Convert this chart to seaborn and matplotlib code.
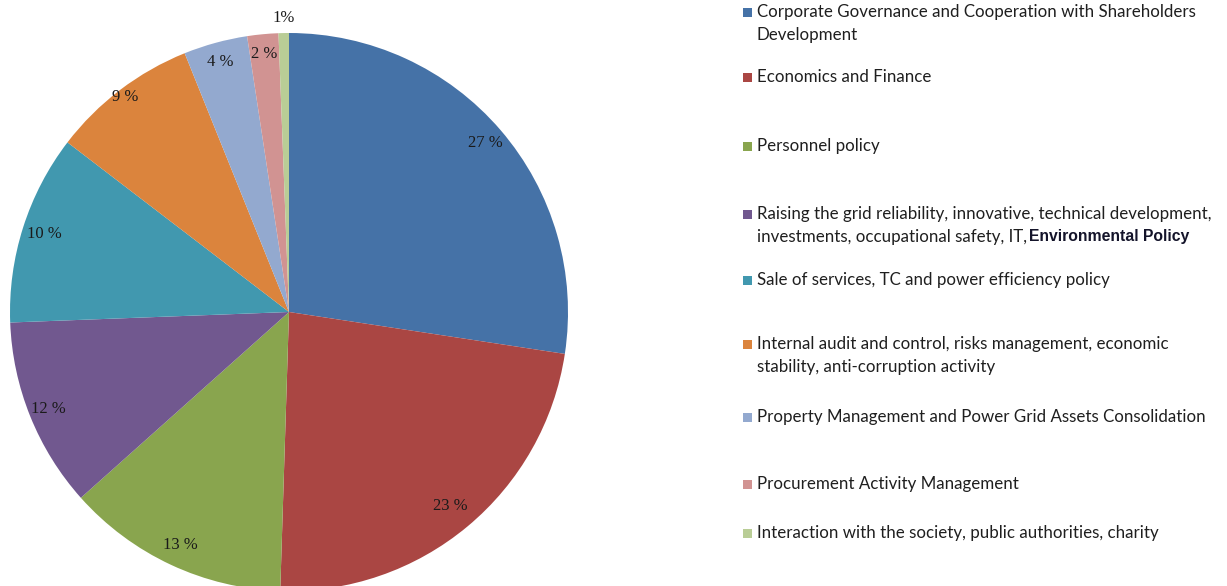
import numpy as np
import matplotlib.pyplot as plt
import seaborn as sns
from matplotlib.patches import Rectangle

# data
categories = [
    "Corporate Governance and Cooperation with Shareholders\nDevelopment",
    "Economics and Finance",
    "Personnel policy",
    "Raising the grid reliability, innovative, technical development,\ninvestments, occupational safety, IT,",
    "Sale of services, TC and power efficiency policy",
    "Internal audit and control, risks management, economic\nstability, anti-corruption activity",
    "Property Management and Power Grid Assets Consolidation",
    "Procurement Activity Management",
    "Interaction with the society, public authorities, charity",
]
# slice sizes (printed labels are rounded)
shares = [27.4, 23.1, 12.9, 11.0, 11.0, 8.5, 3.7, 1.8, 0.6]
pct_labels = ["27 %", "23 %", "13 %", "12 %", "10 %", "9 %", "4 %", "2 %", "1%"]
colors = ["#4572A7", "#AA4643", "#89A54E", "#71588F", "#4198AF",
          "#DB843D", "#93A9CF", "#D19392", "#B9CD96"]

# layout (pixels)
label_r = [0.93, 0.905, 0.92, 0.93, 0.92, 0.97, 0.93, 0.93, 1.055]
legend_y = [12, 77, 146, 214, 280, 344, 417, 484, 533]
line_gap = 23

sns.set_theme(style="white")
W, H = 1227, 586
fig = plt.figure(figsize=(W / 100, H / 100), dpi=100)

cx, cy, R = 289, 312, 279
pad = 1.02
ax = fig.add_axes([(cx - R * pad) / W, (H - cy - R * pad) / H, 2 * R * pad / W, 2 * R * pad / H])
wedges, _ = ax.pie(shares, colors=colors, startangle=90, counterclock=False,
                   wedgeprops=dict(linewidth=0))
ax.set_xlim(-pad, pad)
ax.set_ylim(-pad, pad)
ax.set_aspect("equal")

for w, lab, d in zip(wedges, pct_labels, label_r):
    ang = np.deg2rad((w.theta1 + w.theta2) / 2)
    ax.text(d * np.cos(ang), d * np.sin(ang), lab, ha="center", va="center",
            fontfamily="Liberation Serif", fontsize=12, color="#1a1a1a")

# legend drawn on an overlay in pixel coordinates
lax = fig.add_axes([0, 0, 1, 1])
lax.set_xlim(0, W)
lax.set_ylim(H, 0)
lax.axis("off")
lax.patch.set_alpha(0)

txt_kw = dict(fontfamily="Lato", fontsize=12.2, color="#1f1f1f", va="center", ha="left")
renderer = fig.canvas.get_renderer()
for cat, col, y in zip(categories, colors, legend_y):
    lax.add_patch(Rectangle((743, y - 4.5), 9, 9, color=col, lw=0))
    for i, line in enumerate(cat.split("\n")):
        t = lax.text(757, y + i * line_gap, line, **txt_kw)
        if line.endswith("IT,"):
            bb = t.get_window_extent(renderer)
            lax.text(757 + bb.width + 2, y + i * line_gap, "Environmental Policy",
                     fontfamily="Liberation Sans", fontweight="bold",
                     fontsize=11.3, color="#14142a", va="center", ha="left")

fig.savefig("out.png", dpi=100)
